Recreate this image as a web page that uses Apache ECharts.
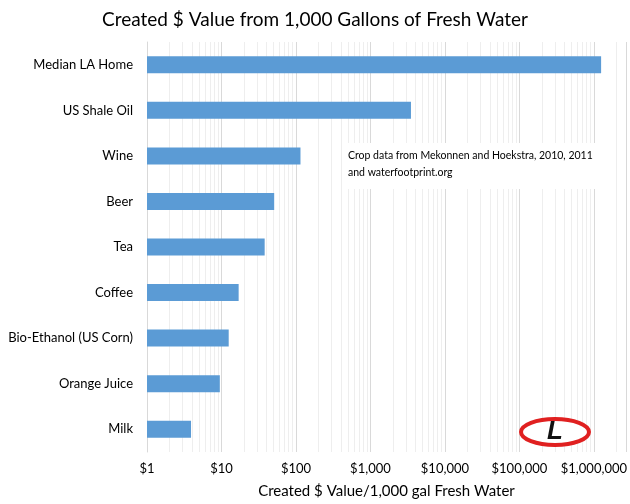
<!DOCTYPE html>
<html>
<head>
<meta charset="utf-8">
<script src="https://cdn.jsdelivr.net/npm/echarts@6/dist/echarts.min.js"></script>
<style>html,body{margin:0;padding:0;background:#fff}#c{width:630px;height:504px}</style>
</head>
<body>
<div id="c"></div>
<script>
const categories = ["Median LA Home","US Shale Oil","Wine","Beer","Tea","Coffee","Bio-Ethanol (US Corn)","Orange Juice","Milk"];
const values = [1250000, 3500, 115, 51, 38, 17, 12.5, 9.5, 3.9];
const titleText = "Created $ Value from 1,000 Gallons of Fresh Water";
const xAxisName = "Created $ Value/1,000 gal Fresh Water";
const noteLines = ["Crop data from Mekonnen and Hoekstra, 2010, 2011", "and waterfootprint.org"];

const FONT = "Lato";
const minorLines = [];
for (let d = 0; d <= 6; d++) {
  for (let k = 2; k <= 9; k++) minorLines.push({ xAxis: k * Math.pow(10, d) });
}

const chart = echarts.init(document.getElementById('c'));
chart.setOption({
  animation: false,
  backgroundColor: '#fff',
  title: {
    text: titleText, left: 'center', top: 5,
    textStyle: { fontFamily: FONT, fontSize: 19, fontWeight: 'normal', color: '#000' }
  },
  grid: { left: 147, right: 2, top: 42, bottom: 51, containLabel: false },
  xAxis: {
    type: 'log', logBase: 10, min: 1, max: 2700000, splitNumber: 7,
    name: xAxisName, nameLocation: 'middle', nameGap: 32,
    nameTextStyle: { fontFamily: FONT, fontSize: 15, color: '#000' },
    axisLine: { show: false }, axisTick: { show: false },
    axisLabel: {
      fontFamily: FONT, fontSize: 13, color: '#000', margin: 10,
      formatter: v => '$' + Number(v).toLocaleString('en-US')
    },
    splitLine: { show: true, lineStyle: { color: '#d9d9d9', width: 1 } }
  },
  yAxis: {
    type: 'category', data: categories, inverse: true,
    axisLine: { show: true, lineStyle: { color: '#d9d9d9' } },
    axisTick: { show: false },
    axisLabel: { fontFamily: FONT, fontSize: 13, color: '#000', margin: 14 }
  },
  series: [{
    type: 'bar', data: values, barWidth: 17,
    itemStyle: { color: '#5b9bd5' },
    z: 3,
    markLine: {
      silent: true, symbol: 'none', label: { show: false },
      lineStyle: { color: '#eeeeee', width: 1, type: 'solid' },
      data: minorLines, z: 1
    }
  }],
  graphic: [
    {
      type: 'text', left: 342, top: 143, z: 100,
      style: {
        text: noteLines.join('\n'), font: '10.5px ' + FONT, fill: '#000',
        lineHeight: 17, backgroundColor: '#fff', padding: [4, 6, 8, 6]
      }
    },
    {
      type: 'ellipse', z: 100, shape: { cx: 555, cy: 432, rx: 34, ry: 13 },
      style: { fill: '#fff', stroke: '#e02020', lineWidth: 4 }
    },
    {
      type: 'text', z: 101, x: 555, y: 432,
      style: { text: 'L', align: 'center', verticalAlign: 'middle', font: 'italic bold 26px Arial', fill: '#111' }
    }
  ]
});
</script>
</body>
</html>
